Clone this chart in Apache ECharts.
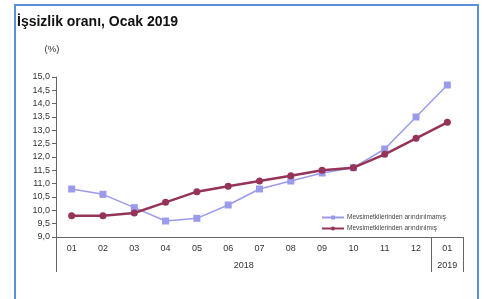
<!DOCTYPE html>
<html>
<head>
<meta charset="utf-8">
<script src="https://cdn.jsdelivr.net/npm/echarts@6/dist/echarts.min.js"></script>
<style>
  html, body { margin: 0; padding: 0; background: #fff; }
  #chart { width: 485px; height: 299px; }
</style>
</head>
<body>
<div id="chart"></div>
<script>
// aylar (kategoriler)
const months = ["01", "02", "03", "04", "05", "06", "07", "08", "09", "10", "11", "12", "01"];
const years = ["2018", "2019"];
// yıl etiketlerinin ve ayraçların kategori konumu
const yearLabelPos = [6, 12.5];
const yearSeparators = [0, 12, 13];

const seriesNames = ["Mevsimetkilerinden arındırılmamış", "Mevsimetkilerinden arındırılmış"];
// işsizlik oranı (%)
const unadjusted = [10.8, 10.6, 10.1, 9.6, 9.7, 10.2, 10.8, 11.1, 11.4, 11.6, 12.3, 13.5, 14.7];
const adjusted = [9.8, 9.8, 9.9, 10.3, 10.7, 10.9, 11.1, 11.3, 11.5, 11.6, 12.1, 12.7, 13.3];

const chart = echarts.init(document.getElementById("chart"), null, { renderer: "canvas" });

const axisColor = "#666";
const labelColor = "#333";
const fontFamily = "Liberation Sans, Arial, sans-serif";

const option = {
  animation: false,
  textStyle: { fontFamily: fontFamily },
  title: {
    text: "İşsizlik oranı, Ocak 2019",
    left: 12,
    top: 10,
    textStyle: { fontSize: 14, fontWeight: "bold", color: "#111", fontFamily: fontFamily },
  },
  graphic: [
    {
      type: "rect",
      shape: { x: 15, y: 5, width: 463, height: 310 },
      style: { fill: "none", stroke: "#5a8fdc", lineWidth: 2 },
      silent: true,
    },
  ],
  legend: {
    orient: "vertical",
    left: 316,
    top: 209,
    itemWidth: 22,
    itemHeight: 5,
    itemGap: 4,
    textStyle: { fontSize: 6.5, color: "#444", padding: [0, 0, 0, -2] },
    data: seriesNames,
  },
  grid: { left: 56, right: 22, top: 77, bottom: 62 },
  xAxis: [
    {
      type: "category",
      data: months,
      boundaryGap: true,
      axisLine: { lineStyle: { color: axisColor, width: 1 } },
      axisTick: { show: false },
      axisLabel: { color: labelColor, fontSize: 9, margin: 7 },
    },
    {
      type: "value",
      position: "bottom",
      min: 0,
      max: months.length,
      axisLine: { show: false },
      splitLine: { show: false },
      axisTick: {
        show: true,
        customValues: yearSeparators,
        length: 35,
        lineStyle: { color: axisColor, width: 1 },
      },
      axisLabel: {
        show: true,
        customValues: yearLabelPos,
        color: labelColor,
        fontSize: 9,
        margin: 24,
        formatter: (v) => years[yearLabelPos.indexOf(v)] || "",
      },
    },
  ],
  yAxis: {
    type: "value",
    min: 9,
    max: 15,
    interval: 0.5,
    name: "(%)",
    nameLocation: "end",
    nameGap: 23,
    nameTextStyle: { fontSize: 9.5, color: labelColor, padding: [0, 8, 0, 0] },
    axisLine: { show: true, lineStyle: { color: axisColor, width: 1 } },
    axisTick: { show: true, length: 4, lineStyle: { color: axisColor } },
    splitLine: { show: false },
    axisLabel: {
      color: labelColor,
      fontSize: 9,
      margin: 6,
      formatter: (v) => v.toFixed(1).replace(".", ","),
    },
  },
  series: [
    {
      name: seriesNames[0],
      type: "line",
      data: unadjusted,
      symbol: "rect",
      symbolSize: 7,
      itemStyle: { color: "#9b9bec" },
      lineStyle: { width: 1.5, color: "#9b9bec" },
      z: 2,
    },
    {
      name: seriesNames[1],
      type: "line",
      data: adjusted,
      symbol: "circle",
      symbolSize: 7,
      itemStyle: { color: "#953359" },
      lineStyle: { width: 2.5, color: "#953359" },
      z: 3,
    },
  ],
};

chart.setOption(option);
</script>
</body>
</html>
